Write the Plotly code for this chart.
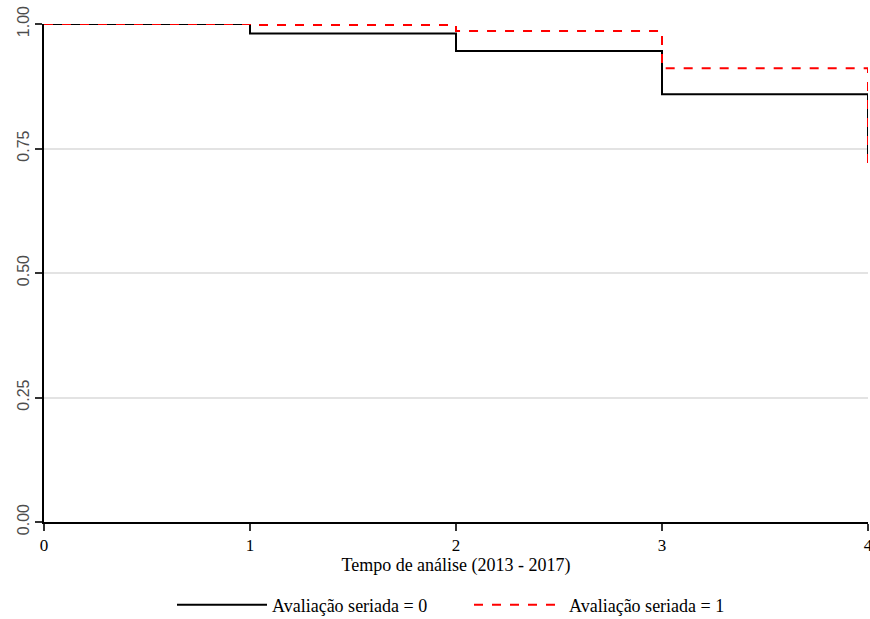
import plotly.graph_objects as go

times = [0, 1, 2, 3, 4, 4]
surv_0 = [1.0, 0.981, 0.946, 0.859, 0.859, 0.725]
surv_1 = [1.0, 0.998, 0.986, 0.911, 0.911, 0.721]
names = ["Avaliação seriada = 0", "Avaliação seriada = 1"]
x_ticks = [0, 1, 2, 3, 4]
y_ticks = [0, 0.25, 0.5, 0.75, 1.0]

serif = "Liberation Serif, Times New Roman, serif"
sans = "Liberation Sans, Arial, sans-serif"

fig = go.Figure()
fig.add_trace(go.Scatter(x=times, y=surv_0, mode="lines", line_shape="hv", cliponaxis=False,
                         line=dict(color="black", width=2), name=names[0]))
fig.add_trace(go.Scatter(x=times, y=surv_1, mode="lines", line_shape="hv", cliponaxis=False,
                         line=dict(color="#ff0000", width=2, dash="dash"), name=names[1]))

fig.update_layout(
    width=870, height=619,
    plot_bgcolor="white", paper_bgcolor="white",
    margin=dict(l=44, r=2, t=24, b=97, autoexpand=False),
    font=dict(family=serif, size=18, color="black"),
    showlegend=True,
    legend=dict(orientation="h", xref="container", x=172 / 870, xanchor="left",
                yref="container", y=1 - 605 / 619, yanchor="middle",
                font=dict(family=serif, size=18, color="black"),
                itemwidth=90, entrywidth=192, entrywidthmode="pixels",
                traceorder="normal"),
    xaxis=dict(range=[0, 4], tickvals=x_ticks, showgrid=False, zeroline=False,
               showline=True, linecolor="black", linewidth=1.5, automargin=False,
               ticks="outside", ticklen=7, tickcolor="#333333", tickwidth=1.5,
               ticklabeloverflow="allow",
               tickfont=dict(family=serif, size=17, color="black"),
               title=dict(text="Tempo de análise (2013 - 2017)", standoff=2,
                          font=dict(family=serif, size=18))),
    yaxis=dict(range=[0, 1], tickvals=y_ticks, tickformat=".2f", tickangle=-90,
               showgrid=True, gridcolor="#e3e3e3", gridwidth=1.5, zeroline=False,
               showline=True, linecolor="black", linewidth=1.5, automargin=False,
               ticks="outside", ticklen=7, tickcolor="#333333", tickwidth=1.5,
               tickfont=dict(family=sans, size=16, color="#4d4d4d")),
)

fig.write_html("out.html", config={"displayModeBar": False},
               post_script="document.body.style.margin='0';document.body.style.overflow='hidden';")
